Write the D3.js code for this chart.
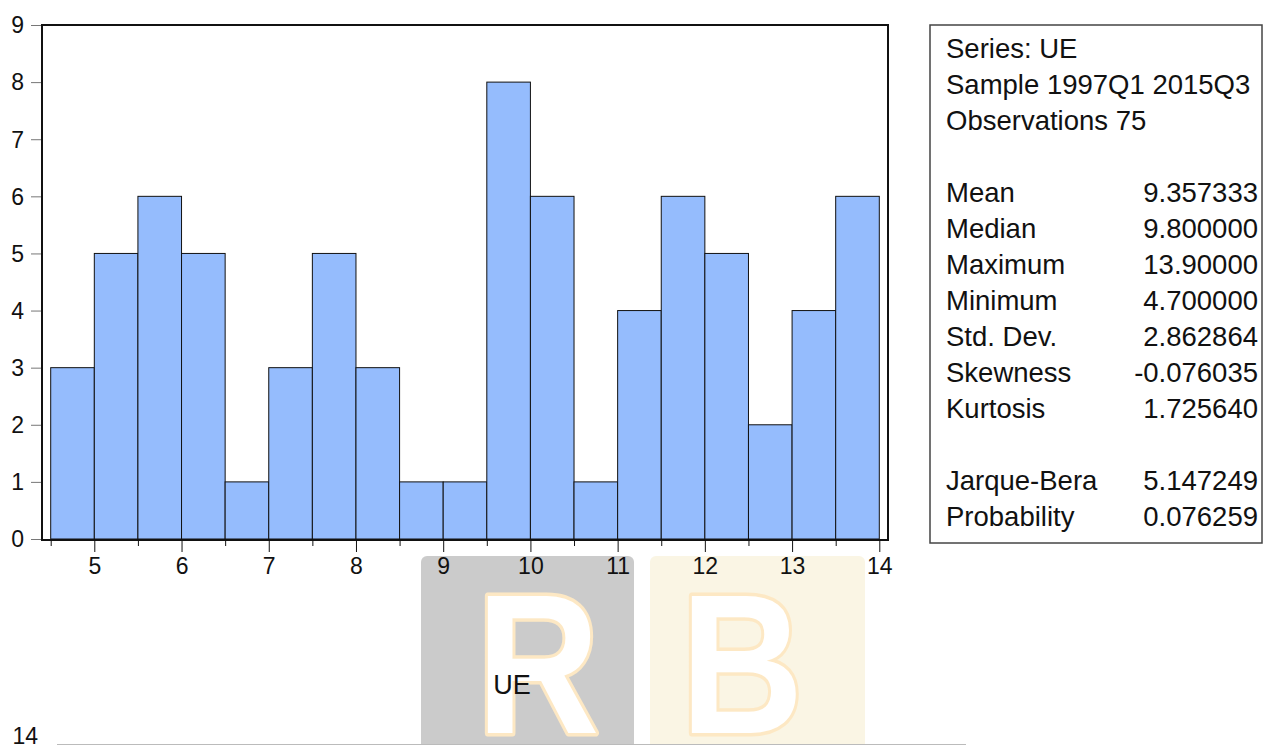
<!DOCTYPE html>
<html>
<head>
<meta charset="utf-8">
<script src="https://cdn.jsdelivr.net/npm/d3@7"></script>
<style>
  body { margin: 0; background: #fff; }
  svg { display: block; font-family: "Liberation Sans", Arial, sans-serif; }
</style>
</head>
<body>
<div id="graph-container"></div>
<script>
// Histogram bins (lower edge of each bin, width 0.5) and counts
var binLo = [4.5, 5, 5.5, 6, 6.5, 7, 7.5, 8, 8.5, 9, 9.5, 10, 10.5, 11, 11.5, 12, 12.5, 13, 13.5];
var counts = [3, 5, 6, 5, 1, 3, 5, 3, 1, 1, 8, 6, 1, 4, 6, 5, 2, 4, 6];
var binWidth = 0.5;

// Axis ticks
var xTicks = [5, 6, 7, 8, 9, 10, 11, 12, 13, 14];
var xMinorTicks = [4.5, 5.5, 6.5, 7.5, 8.5, 9.5, 10.5, 11.5, 12.5, 13.5];
var yTicks = [0, 1, 2, 3, 4, 5, 6, 7, 8, 9];

// Descriptive statistics box
var headerLines = ["Series: UE", "Sample 1997Q1 2015Q3", "Observations 75"];
var statNames = ["Mean", "Median", "Maximum", "Minimum", "Std. Dev.", "Skewness", "Kurtosis", "", "Jarque-Bera", "Probability"];
var statValues = ["9.357333", "9.800000", "13.90000", "4.700000", "2.862864", "-0.076035", "1.725640", "", "5.147249", "0.076259"];

var svgWidth = 1264;
var svgHeight = 745;

var svg = d3.select("#graph-container")
  .append("svg")
  .attr("width", svgWidth)
  .attr("height", svgHeight);

// Watermark blocks in the background
var wm = svg.append("g");
wm.append("rect")
  .attr("x", 421).attr("y", 556).attr("width", 213).attr("height", 195)
  .attr("rx", 6)
  .attr("fill", "#cbcbcb");
wm.append("rect")
  .attr("x", 650).attr("y", 556).attr("width", 215).attr("height", 195)
  .attr("rx", 6)
  .attr("fill", "#faf5e4");
wm.selectAll("text")
  .data([{ t: "R", x: 538 }, { t: "B", x: 742 }])
  .enter()
  .append("text")
  .attr("transform", function (d) { return "translate(" + d.x + ",733) scale(0.86,1)"; })
  .attr("text-anchor", "middle")
  .attr("font-size", 198)
  .attr("font-weight", "bold")
  .attr("fill", "#ffffff")
  .attr("stroke", "#fde8c4")
  .attr("stroke-width", 7)
  .attr("stroke-linejoin", "round")
  .attr("paint-order", "stroke")
  .text(function (d) { return d.t; });

// Plot frame
var frame = { left: 42, top: 25, right: 888, bottom: 540 };

var xScale = d3.scaleLinear()
  .domain([4.5, 14])
  .range([50.7, 879.3]);

var yScale = d3.scaleLinear()
  .domain([0, 9])
  .range([539, 25]);

// Bars
svg.append("g")
  .selectAll("rect")
  .data(counts)
  .enter()
  .append("rect")
  .attr("x", function (d, i) { return xScale(binLo[i]); })
  .attr("y", function (d) { return yScale(d); })
  .attr("width", function (d, i) { return xScale(binLo[i] + binWidth) - xScale(binLo[i]); })
  .attr("height", function (d) { return yScale(0) - yScale(d); })
  .attr("fill", "#95bcfd")
  .attr("stroke", "#111")
  .attr("stroke-width", 1);

svg.append("rect")
  .attr("x", frame.left)
  .attr("y", frame.top)
  .attr("width", frame.right - frame.left)
  .attr("height", frame.bottom - frame.top)
  .attr("fill", "none")
  .attr("stroke", "#111")
  .attr("stroke-width", 2);

// Y axis
var yAxis = d3.axisLeft(yScale)
  .tickValues(yTicks)
  .tickSize(10)
  .tickPadding(7)
  .tickFormat(d3.format("d"));
var gy = svg.append("g")
  .attr("transform", "translate(" + (frame.left - 1) + ",0)")
  .call(yAxis);
gy.select(".domain").remove();
gy.selectAll("line").attr("stroke", "#777");
gy.selectAll("text").attr("font-size", 23).attr("fill", "#111").attr("dy", "0.34em");

// X axis, major and minor ticks
var xAxis = d3.axisBottom(xScale)
  .tickValues(xTicks)
  .tickSize(12)
  .tickPadding(6)
  .tickFormat(d3.format("d"));
var gx = svg.append("g")
  .attr("transform", "translate(0," + frame.bottom + ")")
  .call(xAxis);
gx.select(".domain").remove();
gx.selectAll("line").attr("stroke", "#111");
gx.selectAll("text").attr("font-size", 23).attr("fill", "#111");

var xMinor = d3.axisBottom(xScale)
  .tickValues(xMinorTicks)
  .tickSize(6)
  .tickFormat("");
var gxm = svg.append("g")
  .attr("transform", "translate(0," + frame.bottom + ")")
  .call(xMinor);
gxm.select(".domain").remove();
gxm.selectAll("line").attr("stroke", "#111");

// Statistics box
var box = { x: 930, y: 25, w: 332, h: 518 };
svg.append("rect")
  .attr("x", box.x)
  .attr("y", box.y)
  .attr("width", box.w)
  .attr("height", box.h)
  .attr("fill", "none")
  .attr("stroke", "#444")
  .attr("stroke-width", 1.5);

var lineH = 36;
var firstLine = 58;
var statFont = 27.5;

svg.append("g")
  .selectAll("text")
  .data(headerLines)
  .enter()
  .append("text")
  .attr("x", 946)
  .attr("y", function (d, i) { return firstLine + i * lineH; })
  .attr("font-size", statFont)
  .attr("fill", "#111")
  .text(function (d) { return d; });

svg.append("g")
  .selectAll("text")
  .data(statNames)
  .enter()
  .append("text")
  .attr("x", 946)
  .attr("y", function (d, i) { return firstLine + (i + 4) * lineH; })
  .attr("font-size", statFont)
  .attr("fill", "#111")
  .text(function (d) { return d; });

svg.append("g")
  .selectAll("text")
  .data(statValues)
  .enter()
  .append("text")
  .attr("x", 1258)
  .attr("y", function (d, i) { return firstLine + (i + 4) * lineH; })
  .attr("text-anchor", "end")
  .attr("font-size", statFont)
  .attr("fill", "#111")
  .text(function (d) { return d; });

// Title of the next graph and the top of its frame
svg.append("text")
  .attr("x", 512)
  .attr("y", 694)
  .attr("text-anchor", "middle")
  .attr("font-size", 27)
  .attr("fill", "#111")
  .text("UE");

svg.append("text")
  .attr("x", 38)
  .attr("y", 744)
  .attr("text-anchor", "end")
  .attr("font-size", 23)
  .attr("fill", "#111")
  .text("14");

svg.append("line")
  .attr("x1", 57).attr("x2", 966)
  .attr("y1", 744.5).attr("y2", 744.5)
  .attr("stroke", "#bbb")
  .attr("stroke-width", 1);
</script>
</body>
</html>
